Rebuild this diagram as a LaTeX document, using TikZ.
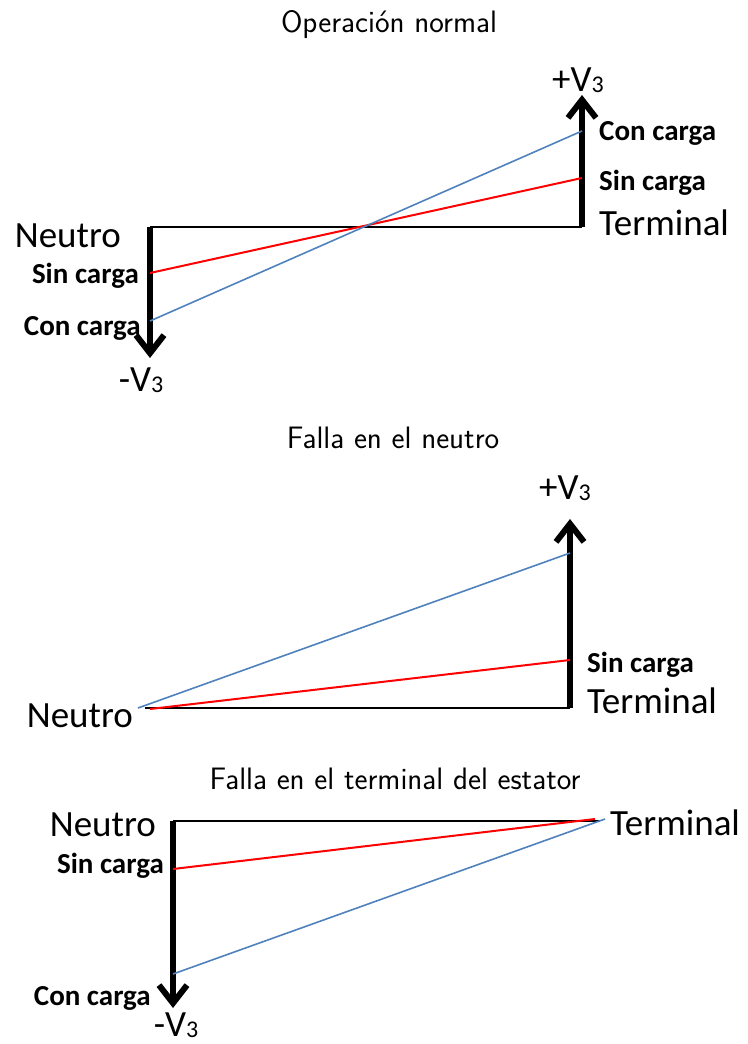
\documentclass[tikz,border=0pt]{standalone}
\usepackage{fontspec}
\newfontfamily\voltfont{Carlito}
\usetikzlibrary{arrows.meta}
\definecolor{VoltBlue}{HTML}{4F81BD}
\definecolor{VoltRed}{HTML}{FF0000}
\newcommand\voltsub[1]{\raisebox{-1.5pt}{\fontsize{24}{24}\selectfont #1}}
\tikzset{
  volt axis/.style={-{Straight Barb[length=18pt,width=28pt]},line width=6pt},
  volt base/.style={draw=black,line width=2pt},
  volt load/.style={draw=VoltBlue,line width=1.6pt},
  volt noload/.style={draw=VoltRed,line width=2pt},
  volt title/.style={
    inner sep=0pt,
    anchor=base,
    font=\fontsize{31}{33}\selectfont\sffamily
  },
  volt big/.style={
    inner sep=0pt,
    font=\fontsize{37}{39}\selectfont\voltfont
  },
  volt small/.style={
    inner sep=0pt,
    font=\fontsize{29}{31}\selectfont\voltfont\bfseries
  }
}

\begin{document}
\begin{tikzpicture}[x=1pt,y=-1pt]
  \useasboundingbox (0,0) rectangle (747,1044);

  % Operacion normal
  \node[volt title] (title1) at (389,32) {Operación normal};
  \coordinate (n1) at (150,227);
  \coordinate (t1) at (582,227);
  \coordinate (n1tip) at (150,358);
  \coordinate (t1tip) at (582,95);
  \coordinate (n1sin) at (150,273);
  \coordinate (t1sin) at (582,178);
  \coordinate (n1con) at (150,321);
  \coordinate (t1con) at (582,131);
  \node[volt big,anchor=base east] (neutro1) at (121,247) {Neutro};
  \node[volt small,anchor=base east] (sinl1) at (139,283) {Sin carga};
  \node[volt small,anchor=base east] (conl1) at (141,335) {Con carga};
  \node[volt big,anchor=base] (vneg1) at (141,391) {-V\voltsub{3}};
  \node[volt big,anchor=base] (vpos1) at (578,91) {+V\voltsub{3}};
  \node[volt small,anchor=base west] (conr1) at (599,140) {Con carga};
  \node[volt small,anchor=base west] (sinr1) at (599,190) {Sin carga};
  \node[volt big,anchor=base west] (term1) at (599,235) {Terminal};

  \draw[volt base] (n1) -- (t1);
  \draw[volt axis] (n1) -- (n1tip);
  \draw[volt axis] (t1) -- (t1tip);
  \draw[volt noload] (n1sin) -- (t1sin);
  \draw[volt load] (n1con) -- (t1con);

  % Falla en el neutro
  \node[volt title] (title2) at (393,448) {Falla en el neutro};
  \coordinate (n2) at (145,708);
  \coordinate (n2con) at (138,708);
  \coordinate (n2sin) at (150,709);
  \coordinate (t2) at (570,708);
  \coordinate (t2tip) at (570,519);
  \coordinate (t2con) at (570,553);
  \coordinate (t2sin) at (570,660);
  \node[volt big,anchor=base east] (neutro2) at (133,727) {Neutro};
  \node[volt big,anchor=base] (vpos2) at (565,499) {+V\voltsub{3}};
  \node[volt small,anchor=base west] (sinr2) at (587,672) {Sin carga};
  \node[volt big,anchor=base west] (term2) at (587,713) {Terminal};

  \draw[volt base] (n2) -- (t2);
  \draw[volt axis] (t2) -- (t2tip);
  \draw[volt load] (n2con) -- (t2con);
  \draw[volt noload] (n2sin) -- (t2sin);

  % Falla en el terminal del estator
  \node[volt title] (title3) at (395,789) {Falla en el terminal del estator};
  \coordinate (n3) at (173,821);
  \coordinate (n3tip) at (173,1008);
  \coordinate (n3sin) at (173,869);
  \coordinate (n3con) at (173,974);
  \coordinate (t3) at (600,821);
  \coordinate (t3sin) at (595,819);
  \coordinate (t3con) at (605,819);
  \node[volt big,anchor=base east] (neutro3) at (156,836) {Neutro};
  \node[volt small,anchor=base east] (sinl3) at (164,873) {Sin carga};
  \node[volt small,anchor=base east] (conl3) at (151,1005) {Con carga};
  \node[volt big,anchor=base] (vneg3) at (176,1036) {-V\voltsub{3}};
  \node[volt big,anchor=base west] (term3) at (610,835) {Terminal};

  \draw[volt base] (n3) -- (t3);
  \draw[volt axis] (n3) -- (n3tip);
  \draw[volt noload] (n3sin) -- (t3sin);
  \draw[volt load] (n3con) -- (t3con);
\end{tikzpicture}
\end{document}
